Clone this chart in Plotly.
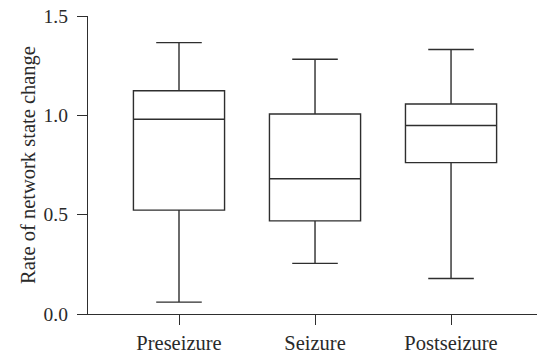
import plotly.graph_objects as go

categories = ["Preseizure", "Seizure", "Postseizure"]
q1_vals = [0.523, 0.469, 0.762]
median_vals = [0.980, 0.681, 0.949]
q3_vals = [1.124, 1.007, 1.057]
min_vals = [0.060, 0.255, 0.179]
max_vals = [1.366, 1.282, 1.331]
y_ticks = [0.0, 0.5, 1.0, 1.5]
y_tick_labels = ["0.0", "0.5", "1.0", "1.5"]

LINE = "#2e2e2e"
TEXT = "#2a2a2a"
FONT = "Liberation Serif"

fig = go.Figure()
fig.add_trace(go.Box(
    x=categories,
    q1=q1_vals,
    median=median_vals,
    q3=q3_vals,
    lowerfence=min_vals,
    upperfence=max_vals,
    width=0.67,
    whiskerwidth=0.5,
    fillcolor="white",
    line=dict(color=LINE, width=1.4),
    boxpoints=False,
    showlegend=False,
    hoverinfo="skip",
))

fig.update_layout(
    width=538, height=355,
    margin=dict(l=88, r=1, t=16, b=37),
    paper_bgcolor="white",
    plot_bgcolor="white",
    font=dict(family=FONT, size=19, color=TEXT),
)
fig.update_xaxes(
    type="category",
    range=[-0.669, 2.632],
    showline=True, linecolor=LINE, linewidth=1.4,
    ticks="outside", ticklen=10, tickwidth=1.4, tickcolor=LINE,
    showgrid=False, zeroline=False,
    tickfont=dict(family=FONT, size=20.5, color=TEXT),
)
fig.update_yaxes(
    range=[0, 1.5],
    tickvals=y_ticks, ticktext=y_tick_labels,
    showline=True, linecolor=LINE, linewidth=1.4,
    ticks="outside", ticklen=10, tickwidth=1.4, tickcolor=LINE,
    showgrid=False, zeroline=False,
    ticklabelstandoff=5,
    tickfont=dict(family=FONT, size=19.5, color=TEXT),
    title=dict(text="Rate of network state change", font=dict(family=FONT, size=20.5, color=TEXT), standoff=2),
)

fig.write_html("out.html")
